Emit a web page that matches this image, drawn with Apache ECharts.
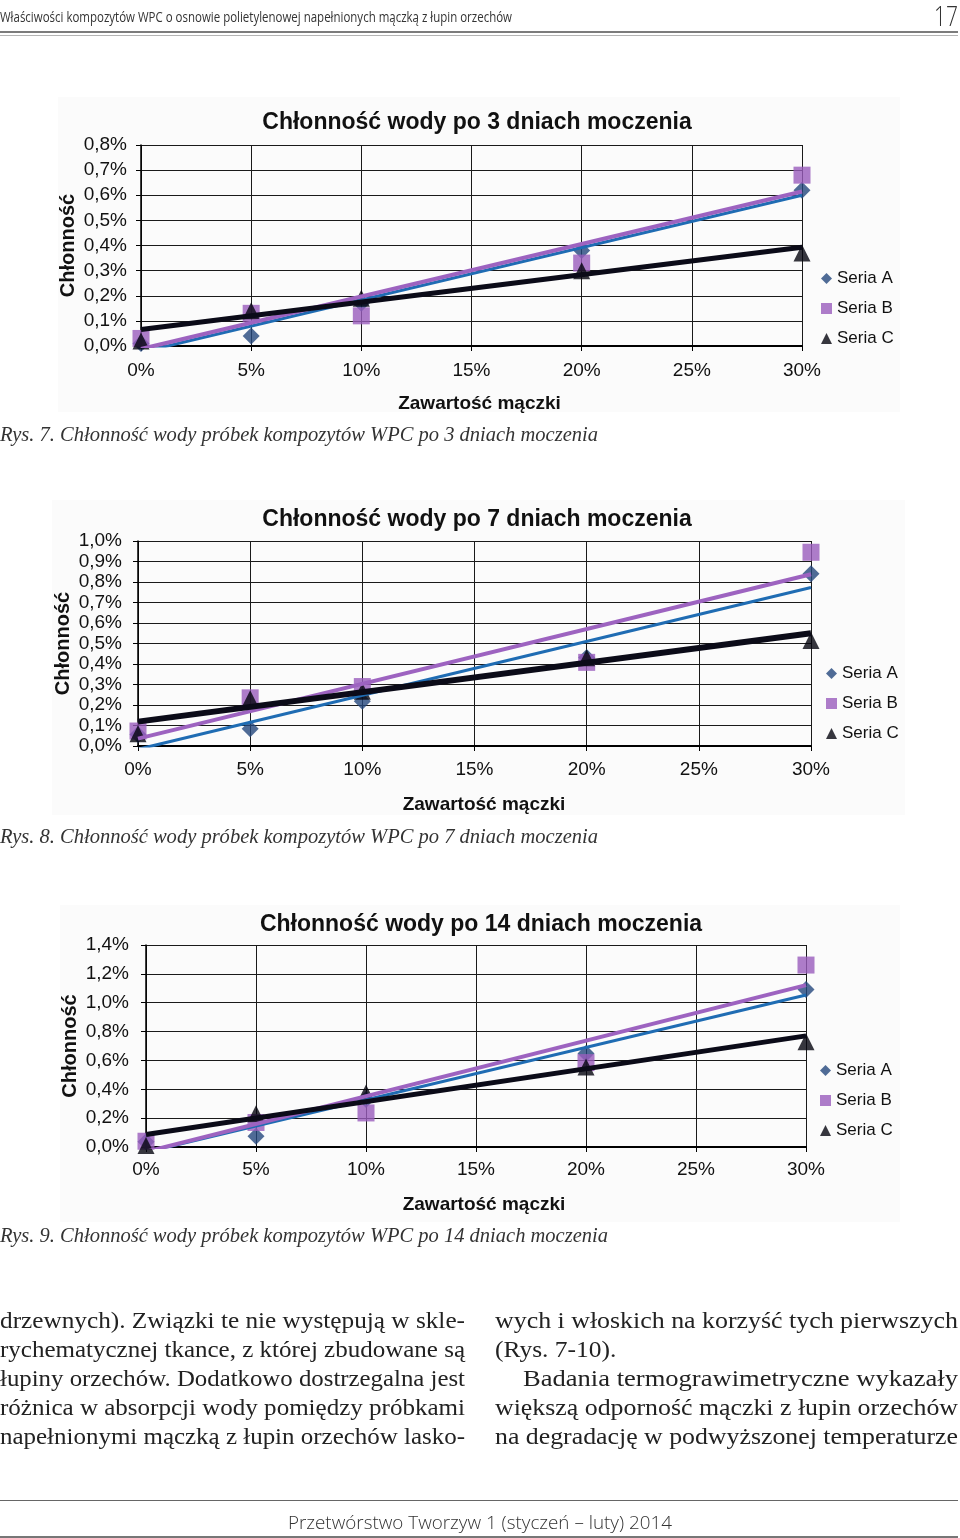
<!DOCTYPE html>
<html><head><meta charset="utf-8">
<script src="https://cdn.jsdelivr.net/npm/echarts/dist/echarts.min.js"></script>
<style>
html,body{margin:0;padding:0;background:#fff;width:960px;height:1538px;overflow:hidden;}
#chart{position:absolute;left:0;top:0;width:960px;height:1538px;z-index:1;}
.panel{position:absolute;background:#fbfbfb;z-index:0;}
.t{position:absolute;white-space:nowrap;z-index:2;transform-origin:left top;color:#222;display:inline-block;}
.hr{position:absolute;left:0;width:958px;z-index:2;}
.cap{font-family:"Liberation Serif",serif;font-style:italic;font-size:20px;color:#333;}
.bl{position:absolute;font-family:"Liberation Serif",serif;font-size:24px;color:#222;white-space:nowrap;z-index:2;display:inline-block;transform-origin:left top;}
</style></head>
<body>
<div class="panel" style="left:58px;top:97px;width:842px;height:315px"></div>
<div class="panel" style="left:52px;top:500px;width:853px;height:315px"></div>
<div class="panel" style="left:60px;top:905px;width:840px;height:317px"></div>
<div id="chart"></div>

<div class="t" id="hdr" style="left:0;top:6px;font-family:'Open Sans',sans-serif;font-size:15px;color:#333">Właściwości kompozytów WPC o osnowie polietylenowej napełnionych mączką z łupin orzechów</div>
<div class="t" id="pg" style="left:934px;top:-4px;font-family:'Open Sans',sans-serif;font-weight:300;font-size:28px;color:#333">17</div>
<div class="hr" style="top:31px;height:2px;background:#7c7c7c"></div>
<div class="hr" style="top:35px;height:1px;background:#b4b4b4"></div>

<div class="t cap" id="cap1" style="left:0;top:423px">Rys. 7. Chłonność wody próbek kompozytów WPC po 3 dniach moczenia</div>
<div class="t cap" id="cap2" style="left:0;top:825px">Rys. 8. Chłonność wody próbek kompozytów WPC po 7 dniach moczenia</div>
<div class="t cap" id="cap3" style="left:0;top:1224px">Rys. 9. Chłonność wody próbek kompozytów WPC po 14 dniach moczenia</div>

<div class="bl" id="l1" style="left:0;top:1307px">drzewnych). Związki te nie występują w skle-</div>
<div class="bl" id="l2" style="left:0;top:1336px">rychematycznej tkance, z której zbudowane są</div>
<div class="bl" id="l3" style="left:0;top:1365px">łupiny orzechów. Dodatkowo dostrzegalna jest</div>
<div class="bl" id="l4" style="left:0;top:1394px">różnica w absorpcji wody pomiędzy próbkami</div>
<div class="bl" id="l5" style="left:0;top:1423px">napełnionymi mączką z łupin orzechów lasko-</div>
<div class="bl" id="r1" style="left:495px;top:1307px">wych i włoskich na korzyść tych pierwszych</div>
<div class="bl" id="r2" style="left:495px;top:1336px">(Rys. 7-10).</div>
<div class="bl" id="r3" style="left:523px;top:1365px">Badania termograwimetryczne wykazały</div>
<div class="bl" id="r4" style="left:495px;top:1394px">większą odporność mączki z łupin orzechów</div>
<div class="bl" id="r5" style="left:495px;top:1423px">na degradację w podwyższonej temperaturze</div>

<div class="hr" style="top:1500px;height:1px;background:#666"></div>
<div class="t" id="ftr" style="left:288px;top:1509px;font-family:'Open Sans',sans-serif;font-weight:300;font-size:19px;color:#333">Przetwórstwo Tworzyw 1 (styczeń – luty) 2014</div>
<div class="hr" style="top:1536px;height:2px;background:#777"></div>

<script>
// ---- data ----
var xContent = [0, 5, 10, 20, 30];
var xLabels = ['0%', '5%', '10%', '15%', '20%', '25%', '30%'];
var seriesNames = ['Seria A', 'Seria B', 'Seria C'];
var titles = ['Chłonność wody po 3 dniach moczenia', 'Chłonność wody po 7 dniach moczenia', 'Chłonność wody po 14 dniach moczenia'];
var xName = 'Zawartość mączki';
var yName = 'Chłonność';

// 3 days
var a3 = [0.01, 0.04, 0.17, 0.38, 0.62];
var b3 = [0.03, 0.13, 0.12, 0.33, 0.68];
var c3 = [0.02, 0.14, 0.19, 0.30, 0.37];
var trendA3 = [-0.025, 0.600];
var trendB3 = [-0.012, 0.615];
var trendC3 = [0.066, 0.393];
var yLabels3 = ['0,0%', '0,1%', '0,2%', '0,3%', '0,4%', '0,5%', '0,6%', '0,7%', '0,8%'];

// 7 days
var a7 = [0.056, 0.084, 0.218, 0.432, 0.84];
var b7 = [0.073, 0.235, 0.29, 0.408, 0.945];
var c7 = [0.06, 0.23, 0.267, 0.43, 0.515];
var trendA7 = [-0.016, 0.773];
var trendB7 = [0.036, 0.838];
var trendC7 = [0.119, 0.550];
var yLabels7 = ['0,0%', '0,1%', '0,2%', '0,3%', '0,4%', '0,5%', '0,6%', '0,7%', '0,8%', '0,9%', '1,0%'];

// 14 days
var a14 = [0.036, 0.074, 0.33, 0.648, 1.092];
var b14 = [0.04, 0.17, 0.236, 0.585, 1.261];
var c14 = [0.01, 0.23, 0.375, 0.555, 0.729];
var trendA14 = [-0.036, 1.053];
var trendB14 = [-0.033, 1.122];
var trendC14 = [0.086, 0.770];
var yLabels14 = ['0,0%', '0,2%', '0,4%', '0,6%', '0,8%', '1,0%', '1,2%', '1,4%'];

// ---- styles ----
var colA = '#24477d', colB = '#9a5cbd', colC = '#05050f';
var lineA = '#1f6cb3', lineB = '#9d63c0', lineC = '#0b0b18';
var FONT = 'Liberation Sans';

var cfgs = [
  {a:a3,b:b3,c:c3,tA:trendA3,tB:trendB3,tC:trendC3,yl:yLabels3,ymax:0.8,yint:0.1,
   grid:{left:141,top:145,width:661,height:201},tx:472,ty:106,lx:816,ly:265,
   ylm:14,xlm:15,xng:48,yng:63,xnp:16,lw:[3,4,5]},
  {a:a7,b:b7,c:c7,tA:trendA7,tB:trendB7,tC:trendC7,yl:yLabels7,ymax:1.0,yint:0.1,
   grid:{left:138,top:541,width:673,height:205},tx:472,ty:503,lx:821,ly:660,
   ylm:16,xlm:14,xng:49,yng:65,xnp:19,lw:[3,4,6]},
  {a:a14,b:b14,c:c14,tA:trendA14,tB:trendB14,tC:trendC14,yl:yLabels14,ymax:1.4,yint:0.2,
   grid:{left:146,top:945,width:660,height:202},tx:476,ty:908,lx:815,ly:1057,
   ylm:17,xlm:13,xng:48,yng:66,xnp:16,lw:[3,4,5]}
];

var option = {animation:false, title:[], grid:[], xAxis:[], yAxis:[], legend:[], series:[]};
cfgs.forEach(function(c, k){
  option.title.push({text:titles[k], left:c.tx, top:c.ty, textAlign:'center',
    textStyle:{fontFamily:FONT, fontSize:23, fontWeight:'bold', color:'#111'}});
  option.grid.push(Object.assign({containLabel:false}, c.grid));
  option.xAxis.push({type:'value', gridIndex:k, min:0, max:30, interval:5,
    name:xName, nameLocation:'middle', nameGap:c.xng, nameMoveOverlap:false,
    nameTextStyle:{fontFamily:FONT, fontSize:19, fontWeight:'bold', color:'#111', padding:[0,0,0,c.xnp]},
    axisLine:{lineStyle:{color:'#000', width:2}},
    axisTick:{show:true, length:5, lineStyle:{color:'#000'}},
    axisLabel:{margin:c.xlm, fontFamily:FONT, fontSize:19, color:'#111',
      formatter:function(v, i){ return xLabels[Math.round(v/5)]; }},
    splitLine:{show:true, lineStyle:{color:'#1a1a1a', width:1}}});
  option.yAxis.push({type:'value', gridIndex:k, min:0, max:c.ymax, interval:c.yint,
    name:yName, nameLocation:'middle', nameGap:c.yng, nameMoveOverlap:false,
    nameTextStyle:{fontFamily:FONT, fontSize:20, fontWeight:'bold', color:'#111'},
    axisLine:{show:true, lineStyle:{color:'#000', width:1.5}},
    axisTick:{show:true, length:5, lineStyle:{color:'#000'}},
    axisLabel:{margin:c.ylm, fontFamily:FONT, fontSize:19, color:'#111',
      formatter:function(v){ return c.yl[Math.round(v / c.yint)]; }},
    splitLine:{show:true, lineStyle:{color:'#1a1a1a', width:1}}});
  option.legend.push({orient:'vertical', left:c.lx, top:c.ly, itemGap:13,
    itemWidth:11, itemHeight:11, data:seriesNames,
    textStyle:{fontFamily:FONT, fontSize:17, color:'#111'}});
  var sets = [[c.a, 'diamond', 17, colA], [c.b, 'rect', 17, colB], [c.c, 'triangle', 17, colC]];
  sets.forEach(function(s, j){
    option.series.push({type:'scatter', name:seriesNames[j], xAxisIndex:k, yAxisIndex:k,
      symbol:s[1], symbolSize:s[2], itemStyle:{color:s[3]}, z:2,
      data:xContent.map(function(x, i){ return [x, s[0][i]]; })});
  });
  var trends = [[c.tA, lineA, c.lw[0]], [c.tB, lineB, c.lw[1]], [c.tC, lineC, c.lw[2]]];
  trends.forEach(function(t, j){
    option.series.push({type:'line', name:'trend ' + seriesNames[j], xAxisIndex:k, yAxisIndex:k,
      symbol:'none', clip:true, silent:true, z:3,
      lineStyle:{color:t[1], width:t[2]},
      data:[[0, t[0][0]], [30, t[0][1]]]});
  });
});

var chart = echarts.init(document.getElementById('chart'), null, {renderer:'canvas'});
chart.setOption(option);

function fit(id, w){
  var el = document.getElementById(id);
  var r = el.getBoundingClientRect().width;
  if (r > 0) el.style.transform = 'scaleX(' + (w / r) + ')';
  return r > 0 ? w / r : 1;
}
fit('hdr', 512); fit('cap1', 598); fit('cap2', 598); fit('cap3', 608); fit('ftr', 384); fit('pg', 24);
var s = 0;
['l1','l2','l3','l4','l5'].forEach(function(id){ s += fit(id, 465); });
['r1','r4','r5'].forEach(function(id){ s += fit(id, 463); });
s += fit('r3', 435);
document.getElementById('r2').style.transform = 'scaleX(' + (s / 9) + ')';
</script>
</body></html>
